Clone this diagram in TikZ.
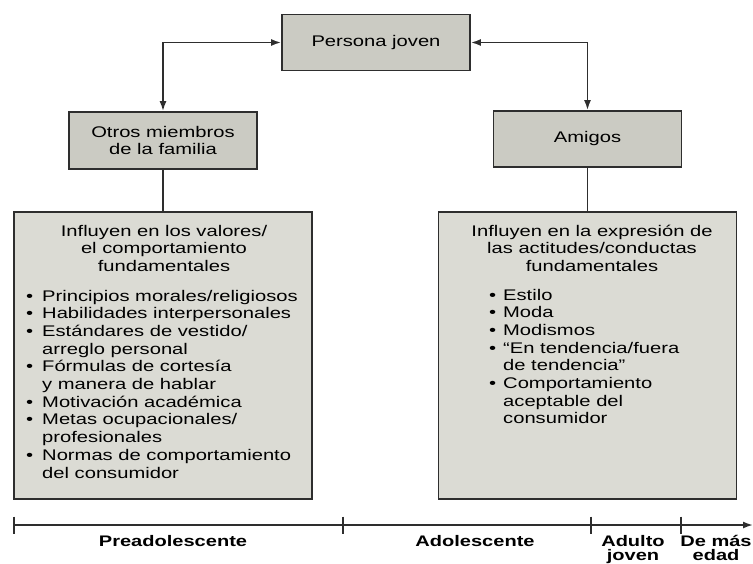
\documentclass[tikz,border=0pt]{standalone}
\usepackage{fontspec}
\setmainfont[FakeStretch=1.31]{Liberation Sans}
\usetikzlibrary{arrows.meta}
\definecolor{smallfill}{HTML}{CBCBC3}
\definecolor{bigfill}{HTML}{DBDBD4}
\definecolor{edge}{HTML}{2E2E2E}
\begin{document}
\begin{tikzpicture}[x=1pt,y=1pt,
  smallbox/.style={draw=edge,line width=1.8pt,fill=smallfill,minimum width=188pt,minimum height=56pt,inner sep=0pt,align=center,
    font=\fontsize{15.4}{17.7}\selectfont},
  bigbox/.style={draw=edge,line width=1.5pt,fill=bigfill,minimum width=298pt,minimum height=287pt,inner sep=0pt},
  txt/.style={inner sep=0pt,font=\fontsize{15.4}{17.7}\selectfont},
  lbl/.style={inner sep=0pt,anchor=base,font=\fontsize{15.3}{12.5}\selectfont\bfseries},
  conn/.style={draw=edge,line width=1.7pt},
  tip/.style={Latex[length=10pt,width=7pt]},
  arr/.style={conn,{Latex[length=10pt,width=7pt]}-{Latex[length=10pt,width=7pt]}}
]
\useasboundingbox (0,0) rectangle (753,-563);

\node[smallbox] (pj) at (376,-42.5) {Persona joven};
\node[smallbox,minimum height=57pt] (otros) at (163,-140.5) {Otros miembros\\de la familia};
\node[smallbox] (amigos) at (587.5,-139) {Amigos};

\node[bigbox] (lb) at (163,-355.5) {};
\node[bigbox] (rb) at (587.5,-355.5) {};

\draw[arr] (otros.north) |- (pj.west);
\draw[arr] (amigos.north) |- (pj.east);
\draw[conn] (otros.south) -- (lb.north);
\draw[conn] (amigos.south) -- (rb.north);

% left box text
\node[txt,anchor=base] (lt) at (164,-236) {\begin{tabular}[t]{@{}c@{}}Influyen en los valores/\\el comportamiento\\fundamentales\end{tabular}};
\node[txt,anchor=base west] (ll) at (26,-301) {\begin{tabular}[t]{@{}l@{}l@{}}
\makebox[16pt][l]{\textbullet} & Principios morales/religiosos\\
\textbullet & Habilidades interpersonales\\
\textbullet & Estándares de vestido/\\
 & arreglo personal\\
\textbullet & Fórmulas de cortesía\\
 & y manera de hablar\\
\textbullet & Motivación académica\\
\textbullet & Metas ocupacionales/\\
 & profesionales\\
\textbullet & Normas de comportamiento\\
 & del consumidor
\end{tabular}};

% right box text
\node[txt,anchor=base] (rt) at (592,-236) {\begin{tabular}[t]{@{}c@{}}Influyen en la expresión de\\las actitudes/conductas\\fundamentales\end{tabular}};
\node[txt,anchor=base west] (rl) at (489,-300) {\begin{tabular}[t]{@{}l@{}l@{}}
\makebox[14pt][l]{\textbullet} & Estilo\\
\textbullet & Moda\\
\textbullet & Modismos\\
\textbullet & “En tendencia/fuera\\
 & de tendencia”\\
\textbullet & Comportamiento\\
 & aceptable del\\
 & consumidor
\end{tabular}};

% timeline
\coordinate (t0) at (14,-525);
\coordinate (t1) at (343,-525);
\coordinate (t2) at (591,-525);
\coordinate (t3) at (681,-525);
\coordinate (tend) at (753,-525);
\draw[conn,-{Latex[length=10pt,width=7pt]}] (t0) -- (tend);
\foreach \t in {t0,t1,t2,t3}{
  \draw[conn] ([yshift=8.5pt]\t.center) -- ([yshift=-8.5pt]\t.center);
}
\node[lbl] (pre) at (173,-546) {Preadolescente};
\node[lbl] (ado) at (475,-546) {Adolescente};
\node[lbl] (adu) at (633,-546) {\begin{tabular}[t]{@{}c@{}}Adulto\\joven\end{tabular}};
\node[lbl] (dem) at (716,-546) {\begin{tabular}[t]{@{}c@{}}De más\\edad\end{tabular}};
\end{tikzpicture}
\end{document}
